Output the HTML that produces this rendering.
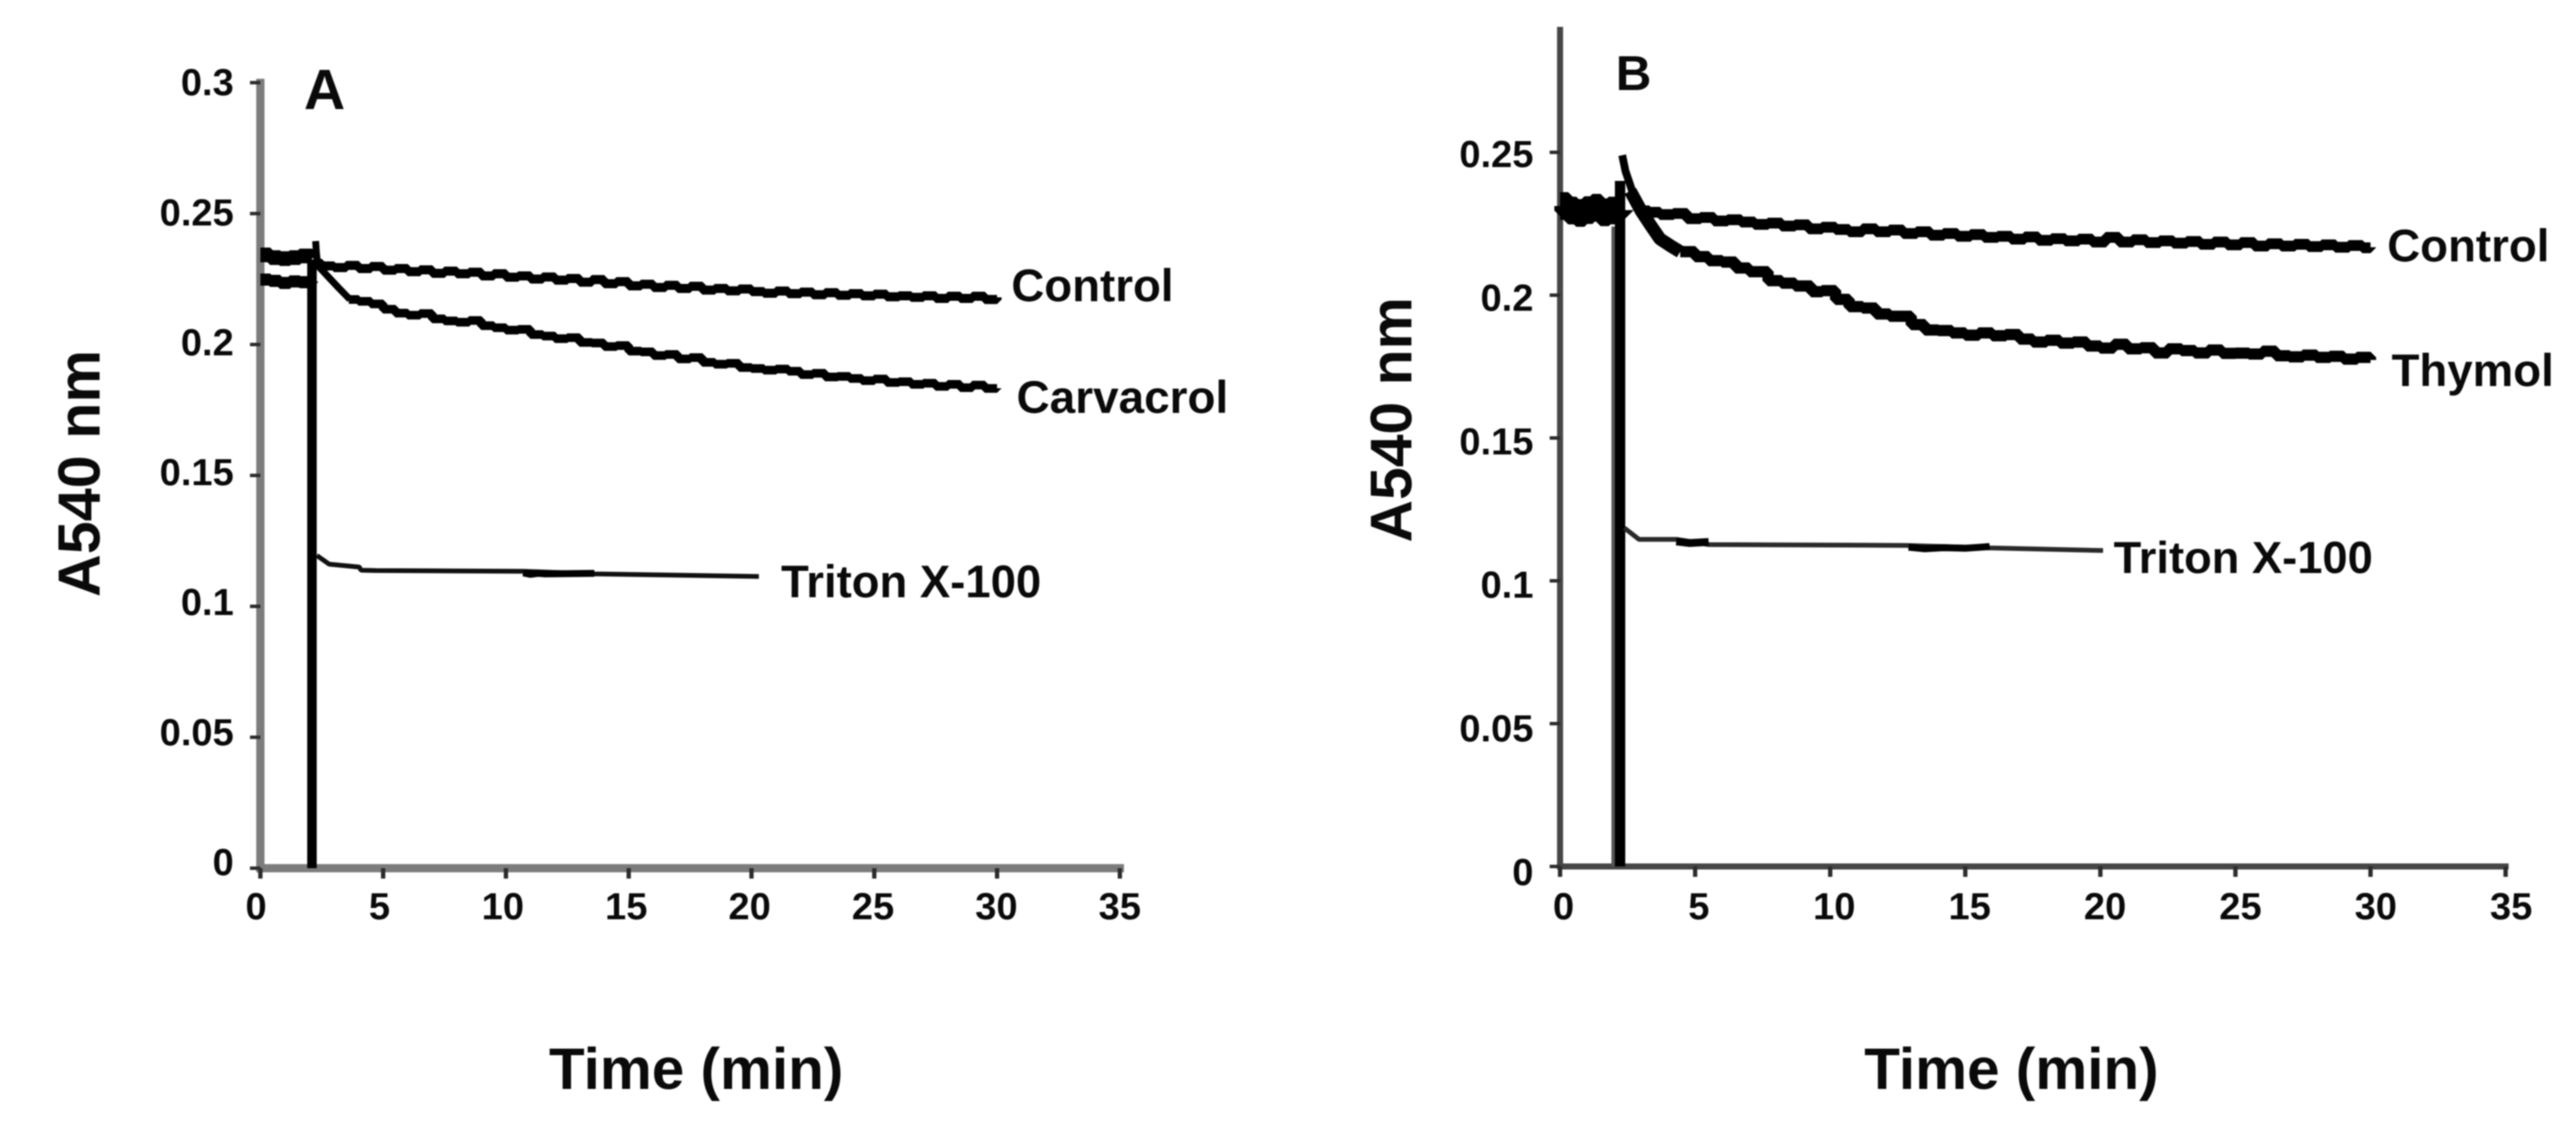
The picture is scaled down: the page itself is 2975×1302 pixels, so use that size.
<!DOCTYPE html>
<html lang="en">
<head>
<meta charset="utf-8">
<title>A540 nm over time: panels A and B</title>
<style>
  html, body { margin: 0; padding: 0; background: #fff; }
  #figure { display: block; width: 2975px; height: 1302px; filter: blur(0.9px); }
  text { font-family: "Liberation Sans", Arial, sans-serif; font-weight: 700; fill: #0a0a0a; }
</style>
</head>
<body>
<svg id="figure" xmlns="http://www.w3.org/2000/svg" width="2975" height="1302" viewBox="0 0 2975 1302">
  <rect x="0" y="0" width="2975" height="1302" fill="#ffffff"/>
  <g id="panel-a"></g>
  <g id="panel-b"></g>

  <text x="351" y="126" font-size="66">A</text>
  <text x="1866" y="104" font-size="57">B</text>

  <text transform="translate(115 547) rotate(-90)" text-anchor="middle" font-size="68.5">A540 nm</text>
  <text transform="translate(1630 485) rotate(-90)" text-anchor="middle" font-size="68">A540 nm</text>
  <text x="804" y="1258" text-anchor="middle" font-size="67.5">Time (min)</text>
  <text x="2323" y="1258" text-anchor="middle" font-size="67.5">Time (min)</text>

  <text x="1168" y="348" font-size="52.7">Control</text>
  <text x="1174" y="477" font-size="53">Carvacrol</text>
  <text x="902" y="690" font-size="52.5">Triton X-100</text>
  <text x="2757" y="302" font-size="52.7">Control</text>
  <text x="2762" y="446" font-size="52.7">Thymol</text>
  <text x="2441" y="662" font-size="52.3">Triton X-100</text>
</svg>

<script>
// Tick values
const xTicks = [0, 5, 10, 15, 20, 25, 30, 35];
const xTickLabels = ['0', '5', '10', '15', '20', '25', '30', '35'];
const yTicksA = [0, 0.05, 0.1, 0.15, 0.2, 0.25, 0.3];
const yTickLabelsA = ['0', '0.05', '0.1', '0.15', '0.2', '0.25', '0.3'];
const yTicksB = [0, 0.05, 0.1, 0.15, 0.2, 0.25];
const yTickLabelsB = ['0', '0.05', '0.1', '0.15', '0.2', '0.25'];

// Panel A series (time in minutes, A540)
const aControlStartTime = [0,0.4,0.8,1.2,1.6,2.1];
const aControlStartValue = [0.2342,0.2332,0.2328,0.2332,0.2338,0.233];
const aControlTime = [2.2,2.5,3,3.5,4,4.5,5,5.5,6,6.5,7,7.5,8,8.5,9,9.5,10,10.5,11,11.5,12,12.5,13,13.5,14,14.5,15,15.5,16,16.5,17,17.5,18,18.5,19,19.5,20,20.5,21,21.5,22,22.5,23,23.5,24,24.5,25,25.5,26,26.5,27,27.5,28,28.5,29,29.5,30];
const aControlValue = [0.231,0.23,0.2294,0.2302,0.229,0.2298,0.2284,0.229,0.2278,0.2285,0.2272,0.228,0.227,0.2276,0.2262,0.227,0.2257,0.2262,0.225,0.2258,0.2246,0.2252,0.2238,0.2248,0.2232,0.224,0.2224,0.223,0.2218,0.2226,0.2214,0.2222,0.2208,0.2214,0.2205,0.2212,0.2202,0.2196,0.2204,0.2194,0.22,0.219,0.2198,0.2188,0.2194,0.2186,0.2192,0.2182,0.2186,0.218,0.2186,0.2176,0.2184,0.2176,0.2184,0.2172,0.218];
const aBaselineTime = [0,0.4,0.8,1.2,1.6,2.1];
const aBaselineValue = [0.2248,0.2243,0.2235,0.2241,0.2238,0.2241];
const aCarvacrolRampTime = [2.3,2.8,3.2,3.65];
const aCarvacrolRampValue = [0.2305,0.2255,0.2215,0.2172];
const aCarvacrolTime = [3.6,4,4.5,5,5.5,6,6.5,7,7.5,8,8.5,9,9.5,10,10.5,11,11.5,12,12.5,13,13.5,14,14.5,15,15.5,16,16.5,17,17.5,18,18.5,19,19.5,20,20.5,21,21.5,22,22.5,23,23.5,24,24.5,25,25.5,26,26.5,27,27.5,28,28.5,29,29.5,30];
const aCarvacrolValue = [0.2172,0.2165,0.2155,0.2135,0.212,0.2112,0.2118,0.2098,0.209,0.2085,0.2092,0.2072,0.2064,0.2055,0.2058,0.2038,0.2032,0.2022,0.2026,0.2008,0.2006,0.1992,0.1996,0.1975,0.1972,0.1958,0.1962,0.1945,0.195,0.1932,0.1925,0.1928,0.1912,0.1908,0.1902,0.1906,0.1898,0.1885,0.189,0.1876,0.1878,0.187,0.1862,0.1868,0.1855,0.1858,0.1848,0.1852,0.184,0.1848,0.1835,0.1845,0.1832,0.1833];
const aAdditionTime = [2.1, 2.1];
const aAdditionValue = [0, 0.2325];
const aSpikeTime = [2.25, 2.28, 2.35];
const aSpikeValue = [0.2395, 0.235, 0.229];
const aTritonTime = [2.3,2.8,4.03,4.1,4.7,10.7,13.6,20.3];
const aTritonValue = [0.1194,0.1161,0.115,0.1138,0.1137,0.1134,0.1124,0.1114];
const aTritonDenseTime = [10.7,11,11.3,11.6,13.6];
const aTritonDenseValue = [0.1128,0.1122,0.1126,0.1124,0.1126];

// Panel B series (time in minutes, A540)
const bControlTime = [2.9,3.3,3.7,4.2,4.7,5.2,5.7,6.2,6.7,7.2,7.7,8.2,8.7,9.2,9.7,10.2,10.7,11.2,11.7,12.2,12.7,13.2,13.7,14.2,14.7,15.2,15.7,16.2,16.7,17.2,17.7,18.2,18.7,19.2,19.7,20.2,20.7,21.2,21.7,22.2,22.7,23.2,23.7,24.2,24.7,25.2,25.7,26.2,26.7,27.2,27.7,28.2,28.7,29.2,29.7,30];
const bControlValue = [0.2295,0.229,0.2282,0.2286,0.2268,0.2272,0.226,0.2264,0.2256,0.2248,0.2252,0.2242,0.2246,0.2232,0.2238,0.223,0.2222,0.2232,0.2222,0.2228,0.2216,0.2222,0.221,0.2216,0.2206,0.2212,0.2202,0.2206,0.2196,0.2204,0.2192,0.2198,0.219,0.2196,0.2186,0.2202,0.2186,0.2194,0.2184,0.219,0.2182,0.2188,0.2178,0.2186,0.2176,0.2184,0.2172,0.218,0.2172,0.2178,0.217,0.2176,0.2168,0.2174,0.2166,0.2168];
const bBaselineTime = [0,0.3,0.6,0.9,1.2,1.5,1.8,2.2];
const bBaselineValue = [0.2312,0.2296,0.2288,0.2298,0.2306,0.229,0.2296,0.2298];
const bThymolSpikeTime = [2.3,2.42,2.6,2.8];
const bThymolSpikeValue = [0.249,0.2435,0.2385,0.2325];
const bThymolRampTime = [2.6,3.0,3.35,3.7,4.1,4.45];
const bThymolRampValue = [0.2365,0.2295,0.2245,0.2197,0.2172,0.2152];
const bThymolTime = [4.45,5,5.5,6,6.5,7,7.7,8.2,8.7,9.3,9.7,10.2,10.7,11.2,11.7,12.2,13,13.5,14,14.5,15,15.5,16,16.5,17,17.5,18,18.5,19,19.5,20,20.5,21,21.5,22,22.5,23,23.5,24,24.5,25,25.5,26,26.5,27,27.5,28,28.5,29,29.5,30];
const bThymolValue = [0.2152,0.2135,0.2121,0.2116,0.2095,0.2082,0.2051,0.2042,0.2032,0.2012,0.2016,0.1985,0.196,0.1955,0.1934,0.1926,0.1897,0.1878,0.1876,0.1868,0.186,0.1868,0.1858,0.1862,0.1846,0.1836,0.1842,0.1832,0.1836,0.1822,0.1815,0.1828,0.1812,0.1816,0.1798,0.1812,0.1806,0.1798,0.1808,0.1796,0.1797,0.1794,0.1804,0.1788,0.1784,0.179,0.1782,0.1786,0.1776,0.1782,0.1773];
const bAdditionTime = [2.22, 2.22];
const bAdditionValue = [0, 0.24];
const bAdditionEdgeTime = [1.98, 1.98];
const bAdditionEdgeValue = [0, 0.224];
const bTritonTime = [2.38,2.92,4.3,5.5,12.8,15.9,20.1];
const bTritonValue = [0.1185,0.1145,0.1145,0.1127,0.1124,0.1115,0.1106];
const bTritonDenseFirstTime = [4.3,4.8,5.5];
const bTritonDenseFirstValue = [0.1138,0.1132,0.1136];
const bTritonDenseSecondTime = [12.9,13.5,14.2,15,15.9];
const bTritonDenseSecondValue = [0.1118,0.1112,0.1116,0.1114,0.112];

const SVG_NS = 'http://www.w3.org/2000/svg';

const panelA = {
  group: document.getElementById('panel-a'),
  prefix: 'panel-a',
  x: function (t) { return 300.7 + 28.36 * t; },
  y: function (v) { return 1003 - 3025 * v; },
  labelX: function (t) { return 295.7 + 28.5 * t; },
  labelY: function (v) { return 995 - 3003 * v; },
  labelRight: 270,
  axisTop: 91,
  axisColor: '#7c7c7c',
  axisWidth: 9.5,
  tickColor: '#2c2c2c'
};

const panelB = {
  group: document.getElementById('panel-b'),
  prefix: 'panel-b',
  x: function (t) { return 1801.7 + 31.2 * t; },
  y: function (v) { return 1001 - 3300 * v; },
  labelX: function (t) { return 1805.7 + 31.27 * t; },
  labelY: function (v) { return 1006.5 - 3318 * v; },
  labelRight: 1771,
  axisTop: 31,
  axisColor: '#464646',
  axisWidth: 7,
  tickColor: '#2c2c2c'
};

function drawLine(panel, name, x1, y1, x2, y2, color, width) {
  const line = document.createElementNS(SVG_NS, 'line');
  
  
  line.setAttribute('x1', x1);
  line.setAttribute('y1', y1);
  line.setAttribute('x2', x2);
  line.setAttribute('y2', y2);
  line.setAttribute('stroke', color);
  line.setAttribute('stroke-width', width);
  panel.group.appendChild(line);
}

function drawLabel(panel, name, x, y, anchor, content) {
  const label = document.createElementNS(SVG_NS, 'text');
  
  
  label.setAttribute('x', x);
  label.setAttribute('y', y);
  label.setAttribute('text-anchor', anchor);
  label.setAttribute('font-size', '44');
  label.textContent = content;
  panel.group.appendChild(label);
}

function drawAxes(panel, yTicks, yLabels) {
  const x0 = panel.x(0);
  const y0 = panel.y(0);
  const half = panel.axisWidth / 2;
  drawLine(panel, panel.prefix + '-y-axis', x0, panel.axisTop, x0, y0 + half, panel.axisColor, panel.axisWidth);
  drawLine(panel, panel.prefix + '-x-axis', x0 - half, y0, panel.x(35) + half, y0, panel.axisColor, panel.axisWidth);
  yTicks.forEach(function (v, i) {
    drawLine(panel, panel.prefix + '-y-tick', x0 - 12, panel.y(v), x0, panel.y(v), panel.tickColor, 4);
    drawLabel(panel, panel.prefix + '-y-tick-label', panel.labelRight, panel.labelY(v) + 16, 'end', yLabels[i]);
  });
  xTicks.forEach(function (t, i) {
    drawLine(panel, panel.prefix + '-x-tick', panel.x(t), y0, panel.x(t), y0 + 12, panel.tickColor, 5);
    drawLabel(panel, panel.prefix + '-x-tick-label', panel.labelX(t), 1062, 'middle', xTickLabels[i]);
  });
}

function drawSeries(panel, name, times, values, width, color, stepped) {
  const pts = [];
  times.forEach(function (t, i) {
    pts.push(panel.x(t).toFixed(1) + ',' + panel.y(values[i]).toFixed(1));
    if (stepped && i < times.length - 1) {
      pts.push(panel.x(times[i + 1]).toFixed(1) + ',' + panel.y(values[i]).toFixed(1));
    }
  });
  const series = document.createElementNS(SVG_NS, 'polyline');
  
  
  series.setAttribute('points', pts.join(' '));
  series.setAttribute('fill', 'none');
  series.setAttribute('stroke', color);
  series.setAttribute('stroke-width', width);
  series.setAttribute('stroke-linejoin', 'bevel');
  series.setAttribute('stroke-linecap', 'butt');
  panel.group.appendChild(series);
}

drawAxes(panelA, yTicksA, yTickLabelsA);
drawSeries(panelA, 'panel-a-addition-drop', aAdditionTime, aAdditionValue, 11, '#000000', false);
drawSeries(panelA, 'panel-a-addition-spike', aSpikeTime, aSpikeValue, 8, '#000000', false);
drawSeries(panelA, 'panel-a-control-start', aControlStartTime, aControlStartValue, 17, '#000000', true);
drawSeries(panelA, 'panel-a-carvacrol-baseline', aBaselineTime, aBaselineValue, 14, '#000000', true);
drawSeries(panelA, 'panel-a-control-line', aControlTime, aControlValue, 10.5, '#000000', true);
drawSeries(panelA, 'panel-a-carvacrol-ramp', aCarvacrolRampTime, aCarvacrolRampValue, 8, '#000000', false);
drawSeries(panelA, 'panel-a-carvacrol-line', aCarvacrolTime, aCarvacrolValue, 10, '#000000', true);
drawSeries(panelA, 'panel-a-triton-line', aTritonTime, aTritonValue, 5.5, '#111111', false);
drawSeries(panelA, 'panel-a-triton-dense-section', aTritonDenseTime, aTritonDenseValue, 8, '#000000', false);

drawAxes(panelB, yTicksB, yTickLabelsB);
drawSeries(panelB, 'panel-b-addition-edge', bAdditionEdgeTime, bAdditionEdgeValue, 5, '#555555', false);
drawSeries(panelB, 'panel-b-addition-drop', bAdditionTime, bAdditionValue, 12, '#000000', false);
drawSeries(panelB, 'panel-b-baseline', bBaselineTime, bBaselineValue, 32, '#000000', true);
drawSeries(panelB, 'panel-b-control-line', bControlTime, bControlValue, 12.5, '#000000', true);
drawSeries(panelB, 'panel-b-thymol-spike', bThymolSpikeTime, bThymolSpikeValue, 9, '#000000', false);
drawSeries(panelB, 'panel-b-thymol-ramp', bThymolRampTime, bThymolRampValue, 15, '#000000', false);
drawSeries(panelB, 'panel-b-thymol-line', bThymolTime, bThymolValue, 13, '#000000', true);
drawSeries(panelB, 'panel-b-triton-line', bTritonTime, bTritonValue, 5.5, '#2a2a2a', false);
drawSeries(panelB, 'panel-b-triton-dense-first', bTritonDenseFirstTime, bTritonDenseFirstValue, 9, '#000000', false);
drawSeries(panelB, 'panel-b-triton-dense-second', bTritonDenseSecondTime, bTritonDenseSecondValue, 8, '#000000', false);
</script>
</body>
</html>
